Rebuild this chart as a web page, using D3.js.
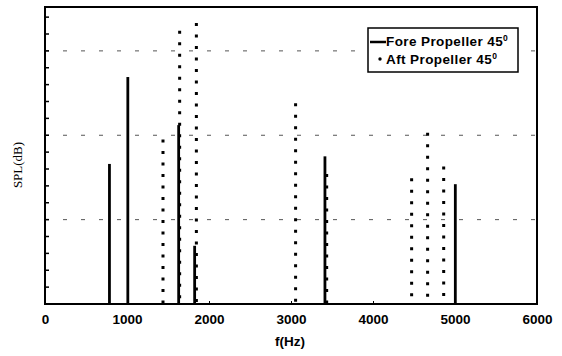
<!DOCTYPE html>
<html><head><meta charset="utf-8">
<script src="https://cdn.jsdelivr.net/npm/d3@7"></script>
<style>body{margin:0;background:#fff}</style>
</head><body>
<svg id="chart" width="562" height="356"></svg>
<script>
const xTicks = [0, 1000, 2000, 3000, 4000, 5000, 6000];
const foreFreq = [786, 1010, 1630, 1825, 3414, 5004];
const foreSPL  = [16.6, 26.9, 21.2, 6.9, 17.5, 14.2];
const aftFreq  = [1439, 1642, 1846, 3056, 3435, 4471, 4666, 4862];
const aftSPL   = [19.5, 32.4, 33.3, 23.8, 15.4, 14.9, 20.3, 16.3];
const gridLevels = [10, 20, 30];
const legendLabels = ["Fore Propeller 45", "Aft Propeller 45"];

const svg = d3.select("#chart");
const L = 45, R = 537, T = 7, B = 304;
const x = d3.scaleLinear().domain([0, 6000]).range([L, R]);
const y = d3.scaleLinear().domain([0, 35.2]).range([B, T]);

// grid
svg.selectAll(".grid").data(gridLevels).join("line")
  .attr("x1", L).attr("x2", R).attr("y1", d => y(d)).attr("y2", d => y(d))
  .attr("stroke", "#555").attr("stroke-width", 1).attr("stroke-dasharray", "4,14");

// minor ticks on left
const yMinor = d3.range(0, 35, 2);
svg.selectAll(".ytick").data(yMinor).join("line")
  .attr("x1", L).attr("x2", L + 4).attr("y1", d => y(d)).attr("y2", d => y(d))
  .attr("stroke", "#000").attr("stroke-width", 1.5);

// x axis labels
const xAxis = d3.axisBottom(x).tickValues(xTicks).tickSize(-3).tickPadding(10).tickFormat(d3.format("d"));
const gx = svg.append("g").attr("transform", `translate(0,${B})`).call(xAxis);
gx.select(".domain").remove();
gx.selectAll("line").attr("stroke", "#000").attr("stroke-width", 1);
gx.selectAll("text").attr("font-family", "Liberation Sans, Arial, sans-serif")
  .attr("font-weight", "bold").attr("font-size", 13.5).attr("fill", "#000");

// fore (solid)
svg.selectAll(".fore").data(foreFreq).join("line")
  .attr("x1", d => x(d)).attr("x2", d => x(d))
  .attr("y1", y(0)).attr("y2", (d, i) => y(foreSPL[i]))
  .attr("stroke", "#000").attr("stroke-width", 2.8);

// aft (dotted)
svg.selectAll(".aft").data(aftFreq).join("line")
  .attr("x1", d => x(d)).attr("x2", d => x(d))
  .attr("y1", (d, i) => y(aftSPL[i])).attr("y2", y(0))
  .attr("stroke", "#000").attr("stroke-width", 3)
  .attr("stroke-dasharray", "3,8.5");

// frame
svg.append("rect").attr("x", L).attr("y", T).attr("width", R - L).attr("height", B - T)
  .attr("fill", "none").attr("stroke", "#000").attr("stroke-width", 2);

// axis titles
svg.append("text").attr("x", 290).attr("y", 346).attr("text-anchor", "middle")
  .attr("font-family", "Liberation Sans, Arial, sans-serif").attr("font-weight", "bold")
  .attr("font-size", 13.5).attr("fill", "#000").text("f(Hz)");
svg.append("text").attr("transform", "translate(22,165) rotate(-90)").attr("text-anchor", "middle")
  .attr("font-family", "Liberation Serif, Times New Roman, serif")
  .attr("font-size", 13).attr("fill", "#000").text("SPL(dB)");

// legend
const lg = svg.append("g");
lg.append("rect").attr("x", 368).attr("y", 28).attr("width", 150).attr("height", 44)
  .attr("fill", "#fff").attr("stroke", "#000").attr("stroke-width", 1.5);
lg.append("line").attr("x1", 370).attr("x2", 386).attr("y1", 42).attr("y2", 42)
  .attr("stroke", "#000").attr("stroke-width", 2.5);
lg.append("circle").attr("cx", 380).attr("cy", 59).attr("r", 1.7).attr("fill", "#000");
legendLabels.forEach((t, i) => {
  const tx = lg.append("text").attr("x", 386).attr("y", 46 + i * 18)
    .attr("font-family", "Liberation Sans, Arial, sans-serif").attr("font-weight", "bold")
    .attr("font-size", 13.5).attr("letter-spacing", 0.4).text(t);
  tx.append("tspan").attr("dy", -5).attr("font-size", 8.5).text("0");
});
</script>
</body></html>
